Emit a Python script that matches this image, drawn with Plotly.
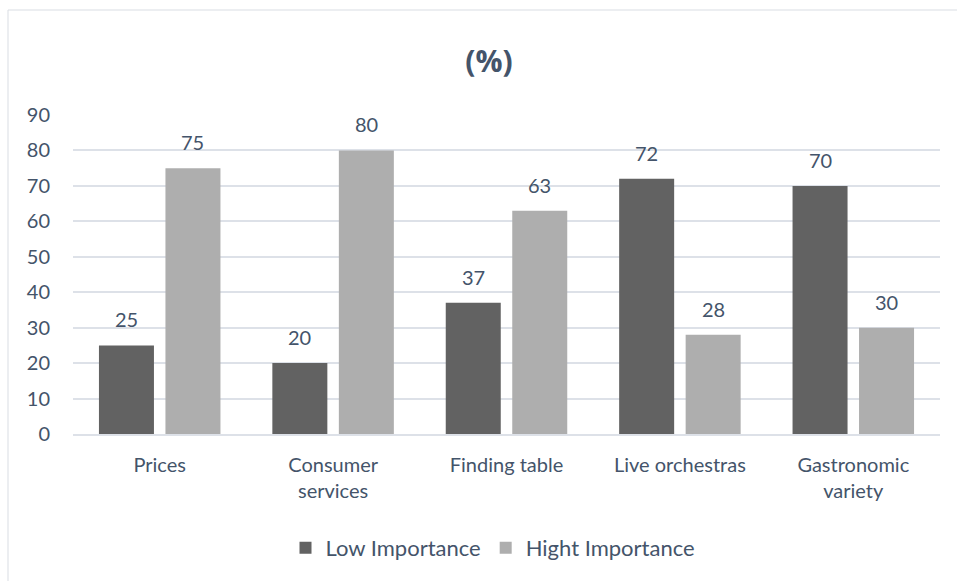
import plotly.graph_objects as go

categories = ["Prices", "Consumer<br>services", "Finding table", "Live orchestras", "Gastronomic<br>variety"]
low_importance = [25, 20, 37, 72, 70]
high_importance = [75, 80, 63, 28, 30]
y_ticks = [0, 10, 20, 30, 40, 50, 60, 70, 80, 90]

TEXT = "#44546A"
GRID = "#DDE1E8"
FONT = "Lato, 'Open Sans', sans-serif"
FS = 20

W, H = 957, 581
M_L, M_R, M_T, M_B = 73, 17, 115, 147
BARGAP, BARGROUPGAP = 0.233, 0.173

fig = go.Figure()
fig.add_trace(go.Bar(name="Low Importance", x=categories, y=low_importance,
                     marker=dict(color="#626262", line=dict(width=0))))
fig.add_trace(go.Bar(name="Hight Importance", x=categories, y=high_importance,
                     marker=dict(color="#AEAEAE", line=dict(width=0))))

# value labels above each bar, shifted to the centre of its group slot
plot_w = W - M_L - M_R
slot = plot_w / len(categories) * (1 - BARGAP) / 2
for sign, vals in ((-1, low_importance), (1, high_importance)):
    for c, v in zip(categories, vals):
        fig.add_annotation(x=c, y=v, text=str(v), showarrow=False,
                           xshift=sign * slot / 2, yshift=12, yanchor="bottom",
                           font=dict(family=FONT, size=FS, color=TEXT))

# outer chart frame
plot_h = H - M_T - M_B
fig.add_shape(type="rect", xref="paper", yref="paper",
              x0=(8 - M_L) / plot_w, x1=(990 - M_L) / plot_w,
              y0=-(M_B + 40) / plot_h, y1=(H - M_B - 10) / plot_h,
              line=dict(color="#D9DDE3", width=1), layer="below")

fig.update_layout(
    width=W, height=H,
    margin=dict(l=M_L, r=M_R, t=M_T, b=M_B),
    paper_bgcolor="white", plot_bgcolor="white",
    barmode="group", bargap=BARGAP, bargroupgap=BARGROUPGAP,
    font=dict(family=FONT, size=FS, color=TEXT),
    title=dict(text="<b>(%)</b>", x=489 / W, xref="container", xanchor="center",
               y=(H - 61) / H, yref="container", yanchor="middle",
               font=dict(family="'Open Sans', sans-serif", size=30, color=TEXT)),
    xaxis=dict(showgrid=False, showline=True, linecolor=GRID, linewidth=1.5,
               ticks="", ticklabelstandoff=12, tickfont=dict(size=FS, color=TEXT)),
    yaxis=dict(range=[0, 90], tickvals=y_ticks, showgrid=True, gridcolor=GRID, gridwidth=1.5,
               zeroline=False, showline=False, ticks="", ticklabelstandoff=22,
               tickfont=dict(size=FS, color=TEXT)),
    legend=dict(orientation="h", x=493 / W, xref="container", xanchor="center",
                y=(H - 548) / H, yref="container", yanchor="middle",
                font=dict(size=22, color=TEXT), itemwidth=30, traceorder="normal"),
    showlegend=True,
)

fig.write_html("out.html")
